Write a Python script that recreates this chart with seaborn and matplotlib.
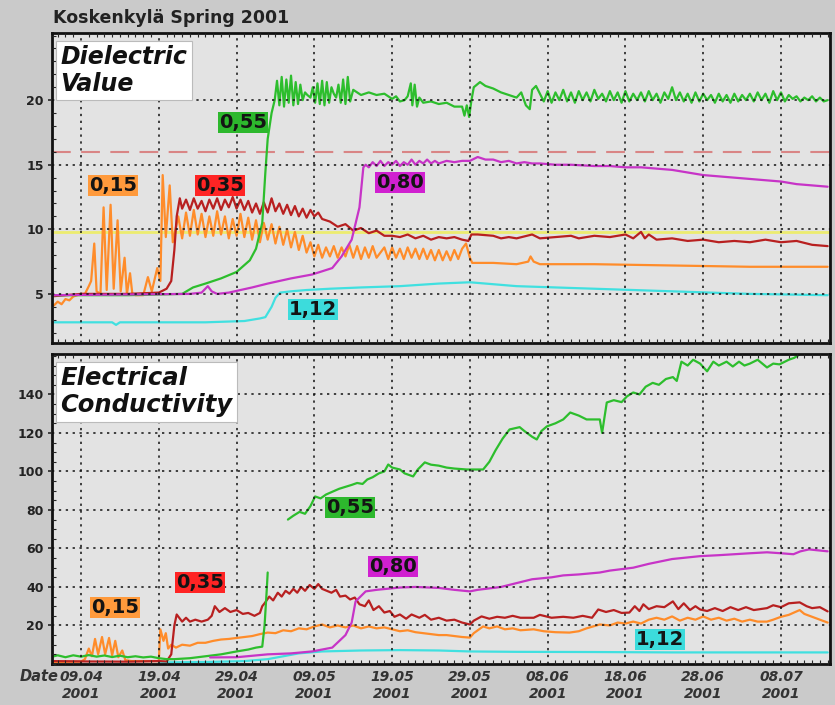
import numpy as np
import pandas as pd
import matplotlib
matplotlib.use("Agg")
import matplotlib.pyplot as plt
import matplotlib.dates as mdates
from matplotlib.ticker import MultipleLocator
import seaborn as sns

# ---------------------------------------------------------------
# data (days counted from 05.04.2001)
# ---------------------------------------------------------------
START = pd.Timestamp("2001-04-05")

tick_dates = ["2001-04-09", "2001-04-19", "2001-04-29", "2001-05-09", "2001-05-19",
              "2001-05-29", "2001-06-08", "2001-06-18", "2001-06-28", "2001-07-08"]
tick_labels = ["09.04\n2001", "19.04\n2001", "29.04\n2001", "09.05\n2001", "19.05\n2001",
               "29.05\n2001", "08.06\n2001", "18.06\n2001", "28.06\n2001", "08.07\n2001"]

# --- Dielectric value (top panel) ---
dv_015_day = [0, 0.5, 1, 1.5, 2, 2.5, 3, 3.5, 4, 4.5, 5.0, 5.3, 5.7, 6.0, 6.5, 6.9, 7.3, 7.8, 8.2,
              8.7, 9.1, 9.6, 9.9, 10.3, 10.6, 11, 12, 12.6, 13.1, 13.8, 14.2, 14.5, 14.9, 15.4, 15.8,
              16.5, 17, 17.5, 18, 18.5, 19, 19.5, 20, 20.5, 21, 21.5, 22, 22.5, 23, 23.5, 24, 24.5,
              25, 25.5, 26, 26.5, 27, 27.5, 28, 28.5, 29, 29.5, 30, 30.5, 31, 31.5, 32, 32.5, 33,
              33.5, 34, 34.5, 35, 35.5, 36, 36.5, 37, 37.5, 38, 38.5, 39, 39.5, 40, 40.5, 41, 41.5,
              42, 43, 43.5, 44, 44.5, 45, 45.5, 46, 46.5, 47, 47.5, 48, 48.5, 49, 49.5, 50, 50.5,
              51, 51.5, 52, 52.5, 53, 53.5, 54, 54.3, 55, 57, 60, 61.5, 61.8, 62.2, 63, 70, 80, 90, 100]
dv_015_val = [4.3, 4.1, 4.4, 4.2, 4.6, 4.5, 4.8, 4.9, 5.0, 5.0, 5.6, 6.0, 8.9, 5.2, 5.0, 11.7, 5.3, 11.9, 5.4,
              10.7, 5.2, 7.8, 5.0, 6.6, 5.0, 4.9, 4.9, 6.3, 5.2, 7.0, 6.0, 14.2, 9.4, 13.4, 9.0,
              11.0, 9.3, 11.3, 9.5, 11.5, 9.6, 11.2, 9.4, 11.0, 9.5, 11.4, 9.6, 11.0, 9.3, 10.8, 9.5, 11.2,
              9.4, 10.9, 9.2, 10.7, 9.0, 10.5, 9.2, 10.4, 8.9, 10.2, 8.8, 10.0, 8.6, 9.8, 8.4, 9.5, 8.2,
              9.0, 7.9, 8.8, 7.8, 8.6, 7.9, 8.7, 7.8, 8.6, 7.9, 8.8, 7.8, 8.7, 7.7, 8.6, 7.8, 8.7,
              7.8, 8.6, 7.7, 8.6, 7.8, 8.5, 7.7, 8.6, 7.8, 8.5, 7.7, 8.5, 7.7, 8.4, 7.6, 8.4, 7.6,
              8.3, 7.6, 8.4, 7.7, 8.5, 8.9, 7.8, 7.4, 7.4, 7.4, 7.3, 7.5, 7.9, 7.5, 7.3, 7.3, 7.2, 7.1, 7.1]

dv_035_day = [0, 4, 10, 14, 15, 15.6, 16.0, 16.3, 16.7, 17, 17.5, 18, 18.5, 19, 19.5, 20, 20.5, 21,
              21.5, 22, 22.5, 23, 23.5, 24, 24.5, 25, 25.5, 26, 26.5, 27, 27.5, 28, 28.5, 29, 29.5,
              30, 30.5, 31, 31.5, 32, 32.5, 33, 33.5, 34, 34.5, 35, 36, 37, 38, 39, 40, 41, 42, 43,
              44, 45, 46, 47, 48, 49, 50, 51, 52, 53, 53.8, 54.2, 55, 57, 58, 59, 60, 62, 63, 65,
              67, 68, 70, 72, 74, 75, 76, 76.5, 77, 78, 80, 82, 84, 86, 88, 90, 92, 94, 96, 98, 100]
dv_035_val = [4.8, 5.0, 5.0, 5.1, 5.4, 6.0, 8.4, 11.0, 12.4, 11.6, 12.3, 11.5, 12.4, 11.6, 12.2, 11.4, 12.3, 11.6,
              12.4, 11.5, 12.3, 11.7, 12.5, 11.6, 12.3, 11.5, 12.2, 11.3, 12.0, 11.2, 12.1, 11.3, 12.4, 11.4, 12.0,
              11.2, 11.9, 11.1, 11.8, 11.0, 11.6, 10.9, 11.5, 11.0, 11.3, 10.8, 10.6, 10.2, 10.4, 9.9, 10.1, 9.7, 9.9, 9.5,
              9.5, 9.4, 9.6, 9.3, 9.5, 9.2, 9.4, 9.3, 9.4, 9.2, 9.1, 9.6, 9.6, 9.5, 9.3, 9.4, 9.3, 9.6, 9.3, 9.4,
              9.5, 9.3, 9.5, 9.4, 9.6, 9.3, 9.8, 9.3, 9.6, 9.2, 9.3, 9.1, 9.2, 9.0, 9.1, 9.0, 9.2, 9.0, 9.1, 8.8, 8.7]

dv_055_day = [0, 10, 17, 18.4, 20, 22, 24, 25.7, 26.5, 27.3, 27.7, 28, 28.5, 28.9, 29.2, 29.5, 29.8,
              30.1, 30.4, 30.7, 31, 31.3, 31.6, 31.9, 32.2, 32.5, 32.8, 33.1, 33.5, 33.8, 34.1, 34.4,
              34.7, 35, 35.3, 35.6, 35.9, 36.2, 36.5, 36.8, 37.1, 37.4, 37.7, 38, 38.3, 38.6, 39, 40,
              41, 42, 43, 44, 44.5, 45, 45.6, 46, 46.4, 46.6, 46.9, 47.2, 47.5, 48, 49, 50, 51, 52,
              53, 53.3, 53.6, 53.9, 54.2, 54.5, 55.3, 56, 57, 58, 59, 60, 60.6, 61.2, 61.7, 62, 62.5,
              63, 63.5, 64, 64.5, 65, 65.5, 66, 66.5, 67, 67.5, 68, 68.5, 69, 69.5, 70, 70.5, 71,
              71.5, 72, 72.5, 73, 73.5, 74, 74.5, 75, 75.5, 76, 76.5, 77, 77.5, 78, 78.5, 79, 79.5,
              80, 80.5, 81, 81.5, 82, 82.5, 83, 83.5, 84, 84.5, 85, 85.5, 86, 86.5, 87, 87.5, 88,
              88.5, 89, 89.5, 90, 90.5, 91, 91.5, 92, 92.5, 93, 93.5, 94, 94.5, 95, 95.5, 96, 96.5,
              97, 97.5, 98, 98.5, 99, 99.5, 100]
dv_055_val = [4.9, 4.9, 5.0, 5.5, 5.8, 6.2, 6.7, 7.6, 8.5, 10.5, 14.4, 17.0, 19.0, 20.0, 21.5, 19.6, 21.8,
              19.5, 21.6, 19.8, 21.9, 19.6, 21.4, 19.7, 21.2, 20.0, 20.6, 20.4, 20.2, 21.0, 19.8, 21.3,
              19.7, 21.5, 19.6, 21.4, 19.8, 21.0, 20.5, 20.2, 21.2, 19.8, 21.6, 19.7, 21.8, 19.9, 20.8, 20.4,
              20.6, 20.4, 20.5, 20.1, 20.3, 19.9, 20.0, 20.3, 21.3, 19.6, 21.2, 19.5, 20.2, 19.8, 19.9, 19.7, 19.8, 19.5,
              19.5, 18.8, 19.6, 18.7, 20.0, 21.0, 21.4, 21.1, 20.9, 20.6, 20.4, 20.2, 20.6, 19.6, 19.3, 20.8, 21.1,
              20.5, 19.9, 20.7, 19.8, 20.6, 20.0, 20.8, 19.9, 20.6, 19.8, 20.7, 20.0, 20.6, 19.9, 20.8, 20.1, 20.5,
              19.9, 20.7, 20.0, 20.6, 19.8, 20.7, 19.9, 20.5, 20.0, 20.6, 19.9, 20.7, 20.0, 20.5, 19.8, 20.6, 20.1,
              21.0, 20.0, 20.6, 19.9, 20.5, 19.8, 20.6, 19.9, 20.5, 20.0, 20.4, 19.8, 20.5, 19.9, 20.4, 19.8, 20.5,
              19.9, 20.4, 20.0, 20.5, 19.9, 20.6, 20.0, 20.5, 19.8, 20.7, 20.0, 20.6, 19.9, 20.4, 20.1, 20.3, 19.9,
              20.2, 20.0, 20.3, 19.9, 20.2, 19.9, 20.0]

dv_080_day = [0, 18, 19.5, 20.3, 20.8, 21.5, 23, 26, 28, 31, 33.7, 36.3, 37.5, 38.8, 39.8, 40.3, 40.6,
              41, 41.5, 42, 42.5, 43, 43.5, 44, 44.5, 45, 45.5, 46, 46.5, 47, 47.5, 48, 48.5, 49, 49.5,
              50, 51, 52, 53, 54, 55, 55.5, 56, 57, 58, 59, 60, 61, 62, 63, 65, 67, 70, 72, 74, 76,
              78, 80, 82, 84, 86, 88, 90, 92, 94, 96, 98, 100]
dv_080_val = [4.9, 5.0, 5.1, 5.6, 5.2, 5.0, 5.1, 5.5, 5.8, 6.2, 6.5, 7.0, 7.9, 9.2, 11.7, 14.8, 15.0,
              14.8, 15.2, 14.9, 15.3, 14.9, 15.2, 15.0, 15.3, 14.9, 15.2, 15.0, 15.4, 15.0, 15.3, 15.1, 15.4, 15.1, 15.3,
              15.1, 15.3, 15.2, 15.3, 15.3, 15.6, 15.5, 15.4, 15.4, 15.2, 15.3, 15.1, 15.2, 15.1, 15.1, 15.0, 15.0, 14.9, 14.9, 14.8, 14.8,
              14.7, 14.6, 14.4, 14.2, 14.1, 14.0, 13.9, 13.8, 13.7, 13.5, 13.4, 13.3]

dv_112_day = [0, 8, 8.5, 9, 20, 25, 27, 27.7, 28.5, 29.0, 29.6, 31, 33, 36, 40, 45, 50, 54, 56, 60,
              65, 70, 75, 80, 85, 90, 95, 100]
dv_112_val = [2.8, 2.8, 2.6, 2.8, 2.8, 2.9, 3.1, 3.2, 4.0, 4.7, 5.1, 5.2, 5.3, 5.4, 5.5, 5.6, 5.8, 5.9, 5.8, 5.6,
              5.5, 5.4, 5.3, 5.2, 5.1, 5.0, 4.95, 4.9]

dv_upper_ref = 16.0
dv_lower_ref = 9.8

# --- Electrical conductivity (bottom panel) ---
ec_015_day = [0, 4, 4.5, 5, 5.4, 5.8, 6.2, 6.7, 7.1, 7.6, 8.0, 8.4, 8.8, 9.3, 9.7, 10.5, 12, 14, 14.2, 14.6,
              14.9, 15.2, 15.6, 16.2, 17, 18, 19, 20, 21, 22, 23, 24, 25, 26, 27, 28, 29, 30, 31, 32,
              33, 34, 35, 36, 37, 38, 39, 40, 41, 42, 43, 44, 45, 46, 47, 48, 49, 50, 51, 52, 53, 54,
              54.5, 55.7, 56.5, 57.5, 58.5, 59.5, 60.5, 62.2, 63.5, 65, 66.8, 68, 69, 70.7, 72, 73, 74,
              75, 76, 77, 78, 79, 80, 81, 82, 83, 84, 85, 86, 87, 88, 89, 90, 91, 92.2, 93, 94, 95,
              96.4, 97, 98, 99, 100]
ec_015_val = [1.0, 1.2, 2.5, 8, 4, 13, 5, 14, 5, 13.5, 4.5, 12, 3.5, 7, 2, 1.5, 1.5, 1.5, 18, 12,
              16, 8, 10, 8.5, 10, 9.5, 11, 11, 12, 12.7, 13, 13.5, 14, 14.5, 15.5, 16.3, 16, 17.5, 17, 18.5,
              18, 19.5, 20.5, 19, 20, 19, 20, 18.5, 19.5, 18.5, 19, 18, 17, 17.5, 16.5, 16, 15.5, 15, 15, 14.5, 14, 13.7,
              16, 19.5, 18.5, 19.5, 18, 18.5, 17.5, 18, 17, 16.5, 16.3, 17, 18.5, 20.5, 20, 21.5, 21,
              22, 21, 23, 24, 23, 24.7, 22.5, 24, 23, 24.7, 23, 24, 22.5, 23.5, 22, 23, 22, 22, 23, 24.5, 25.5,
              28, 26, 24.5, 23, 21.5]

ec_035_day = [0, 5, 10, 14, 15, 15.6, 16.0, 16.3, 17, 17.5, 18, 18.7, 19.5, 20.3, 20.8, 21.2, 21.8, 22.5,
              23.2, 24, 24.8, 25.5, 26.3, 27, 27.3, 27.6, 28.2, 28.7, 29.3, 29.8, 30.3, 30.8, 31.3, 31.8,
              32.3, 32.8, 33.4, 34, 34.5, 35.0, 35.6, 36.2, 36.8, 37.3, 38, 38.6, 39.2, 39.8, 40.5, 41,
              41.6, 42.3, 43, 43.7, 44.3, 45, 45.8, 46.5, 47.5, 48.2, 49, 50, 51, 52, 53, 54, 54.5,
              55.5, 56.5, 57.5, 58.5, 59.5, 60.5, 62.2, 63, 64.5, 66, 67.3, 68.5, 69.7, 70.5, 71.5,
              72.5, 73.5, 74.5, 75.2, 75.8, 76.3, 77, 78, 79, 80.1, 80.8, 81.5, 82.3, 83, 83.6, 84.5,
              85.5, 86.5, 87.5, 88.5, 89.5, 90.5, 92.2, 93, 94, 95, 96.4, 97.3, 98, 99, 100]
ec_035_val = [1.5, 1.3, 1.2, 1.5, 1.3, 5, 20, 25.7, 22, 24, 22, 23, 22, 23, 25, 30, 27, 29,
              27, 28, 26, 26.5, 25, 26.5, 30, 31.5, 35, 33, 37, 35, 38, 36.5, 39, 37,
              40, 38, 41, 39, 41.5, 39, 38, 37, 38.5, 35, 35.5, 33.5, 34.5, 31, 30, 33,
              28, 30, 26.7, 27.5, 24.5, 25.7, 23.5, 25.7, 24, 25.5, 23, 24, 22.5, 23, 21.5, 20.5, 22.5,
              24.7, 23.5, 24.5, 24, 25, 24, 24, 25.5, 24, 24.5, 24, 25, 24, 28.3, 27,
              28, 26.5, 26.7, 30, 27.5, 31, 28.5, 30, 29.5, 32.5, 28.5, 31.5, 28, 30, 28.3, 27.5,
              29, 27.5, 29.5, 28, 29.5, 28, 29, 30.5, 29.5, 31.5, 32, 30, 29, 29.5, 27.3]

# 0,55 has a gap (no readings) between the two parts
ec_055a_day = [0, 1, 2, 3, 4, 5, 6, 7, 8, 9, 10, 11, 12, 13, 14, 15, 16, 18, 20, 22, 24, 25.5, 26.5,
               27.3, 27.6, 27.9, 28.0]
ec_055a_val = [3.5, 4.5, 3.5, 4.5, 3.8, 4.6, 3.8, 4.4, 3.6, 4.3, 3.5, 4.0, 3.4, 3.8, 3.0, 2.5, 2.5, 3.0,
               4.0, 5.0, 6.5, 7.5, 8.5, 9.0, 20, 40, 47.5]
ec_055b_day = [30.6, 31.3, 32.1, 32.8, 33.5, 34.1, 34.8, 35.5, 36.4, 37.2, 38, 38.8, 39.5, 40.2, 40.8,
               41.5, 42.3, 43, 43.5, 44, 45, 45.6, 46.7, 47.3, 48.2, 49, 50, 51, 52, 53.6, 55.7, 56.5,
               57.3, 58.2, 59.1, 60.4, 61, 62, 62.6, 63.2, 63.9, 65, 66, 66.9, 68, 69, 70, 70.7, 71.0,
               71.3, 71.6, 72.5, 73.5, 74.2, 75, 75.8, 76.6, 77.5, 78.3, 79.2, 80.1, 80.6, 81.2, 82,
               82.7, 83.6, 84.5, 85.3, 86, 87, 87.8, 88.6, 89.3, 90, 91, 92.2, 93, 93.8, 94.5, 95,
               95.7, 96.4]
ec_055b_val = [75, 77, 79, 78, 82, 87, 86, 88, 89.6, 91, 92, 93, 94, 93.5, 95.8,
               97, 99, 100, 103.6, 102, 101, 99, 97.4, 101, 104.7, 103.5, 103, 102, 101.5, 101, 101, 105,
               111, 117, 121.8, 123, 121, 118, 116.6, 121, 123.4, 125, 127, 130.6, 129, 127, 127, 127, 120,
               128, 135.8, 137, 136, 139, 141, 140, 144, 146, 145, 148, 149, 147, 157, 155,
               158, 156, 152, 157, 155, 157, 154.5, 157, 155, 156, 158, 154, 156, 155.6, 157, 158,
               159, 160.8]

ec_080_day = [20.6, 24, 28, 31, 33.7, 36.3, 38, 38.8, 39.3, 40.6, 42, 45, 47, 50, 52, 54, 55, 58, 60,
              62, 64.5, 66, 68, 70.7, 72, 74, 75, 77, 80, 83.6, 86, 88, 90, 92.2, 94, 95.6, 96.5,
              97.6, 100]
ec_080_val = [3.4, 3.5, 5, 5.5, 6.5, 8.5, 15, 21.5, 32.5, 37.7, 38.5, 39.7, 40, 39.5, 38.5, 37.7, 38.5, 40, 42,
              44, 45, 46, 46.5, 47.5, 48.5, 49.5, 50, 52, 54.5, 56, 56.5, 57, 57.5, 58, 57.5, 57, 58.5,
              59.5, 58.5]

ec_112_day = [14, 20, 25, 28, 30, 32, 35, 40, 45, 50, 54, 60, 70, 80, 90, 100]
ec_112_val = [0.8, 1.0, 1.5, 2.5, 4.0, 5.5, 6.5, 7.0, 7.2, 7.0, 6.5, 6.3, 6.2, 6.0, 6.0, 6.0]

# label positions (day, value) for the depth tags
dv_tags = {"0,15": (8.1, 13.4), "0,35": (21.9, 13.4), "0,55": (24.8, 18.3),
           "0,80": (45.0, 13.6), "1,12": (33.8, 3.8)}
ec_tags = {"0,15": (8.4, 29.4), "0,35": (19.3, 42.3), "0,55": (38.6, 81.3),
           "0,80": (44.1, 50.6), "1,12": (78.4, 12.7)}

# colours
C_015 = "#FF8C2A"
C_035 = "#B82020"
C_055 = "#2DBE2D"
C_080 = "#C734C7"
C_112 = "#40E0E0"
tag_bg = {"0,15": "#FF9A3C", "0,35": "#FF2424", "0,55": "#2DB82D",
          "0,80": "#D020D0", "1,12": "#3CDCDC"}

# ---------------------------------------------------------------
# figure
# ---------------------------------------------------------------
sns.set_style("white")
plt.rcParams["font.family"] = ["DejaVu Sans"]

fig = plt.figure(figsize=(8.35, 7.05), dpi=100)
fig.patch.set_facecolor("#CACACA")
ax1 = fig.add_axes([0.0623, 0.5135, 0.9317, 0.4397])
ax2 = fig.add_axes([0.0623, 0.0582, 0.9317, 0.4397])


def to_dates(days):
    return START + pd.to_timedelta(np.asarray(days, dtype=float), unit="D")


def draw(ax, days, vals, color, lw=1.6):
    sns.lineplot(x=to_dates(days), y=np.asarray(vals, dtype=float), ax=ax,
                 color=color, lw=lw, estimator=None, sort=False)


# reference lines in the dielectric panel
ax1.axhline(dv_lower_ref, color="#ECEC70", lw=2.0, zorder=1.5)
ax1.axhline(dv_upper_ref, color="#D98585", lw=1.5, ls=(0, (9, 5)), zorder=1.5)

draw(ax1, dv_112_day, dv_112_val, C_112)
draw(ax1, dv_015_day, dv_015_val, C_015)
draw(ax1, dv_035_day, dv_035_val, C_035)
draw(ax1, dv_055_day, dv_055_val, C_055)
draw(ax1, dv_080_day, dv_080_val, C_080)

draw(ax2, ec_112_day, ec_112_val, C_112)
draw(ax2, ec_015_day, ec_015_val, C_015)
draw(ax2, ec_035_day, ec_035_val, C_035)
draw(ax2, ec_055a_day, ec_055a_val, C_055)
draw(ax2, ec_055b_day, ec_055b_val, C_055)
draw(ax2, ec_080_day, ec_080_val, C_080)

x_lo = mdates.date2num(START + pd.Timedelta(days=0.27))
x_hi = mdates.date2num(START + pd.Timedelta(days=100.3))
tick_pos = mdates.date2num(pd.to_datetime(tick_dates))

for ax, ylim, yticks, ymin in [(ax1, (1.2, 25.2), [5, 10, 15, 20], 1),
                               (ax2, (0, 161), [20, 40, 60, 80, 100, 120, 140], 5)]:
    ax.set_facecolor("#E3E3E3")
    ax.set_xlim(x_lo, x_hi)
    ax.set_ylim(*ylim)
    ax.set_yticks(yticks)
    ax.set_yticklabels([str(t) for t in yticks], fontsize=9, fontweight="bold", color="#222222")
    ax.set_xticks(tick_pos)
    ax.xaxis.set_minor_locator(mdates.DayLocator())
    ax.yaxis.set_minor_locator(MultipleLocator(ymin))
    ax.grid(True, which="major", color="#111111", lw=1.1, ls=(0, (1.5, 3)))
    ax.set_axisbelow(False)
    for s in ax.spines.values():
        s.set_visible(True)
        s.set_color("#111111")
        s.set_linewidth(2)
    ax.tick_params(axis="y", which="major", direction="out", length=3, width=1.2, pad=3, left=True)
    ax.tick_params(axis="y", which="minor", direction="in", length=3, width=0.8, left=True)
    ax.tick_params(axis="x", which="minor", direction="in", length=3, width=0.8,
                   top=True, bottom=True)
    ax.tick_params(axis="x", which="major", direction="in", length=0, top=False, bottom=True)
    ax.set_xlabel("")
    ax.set_ylabel("")

ax1.set_xticklabels([])
ax2.set_xticklabels(tick_labels, fontsize=10, fontweight="bold", fontstyle="italic",
                    color="#333333", linespacing=1.3)
ax2.tick_params(axis="x", which="major", pad=4)

# panel names
ax1.text(0.011, 0.96, "Dielectric\nValue", transform=ax1.transAxes, ha="left", va="top",
         fontsize=17, fontweight="bold", fontstyle="italic", color="#111111", linespacing=1.15,
         bbox=dict(boxstyle="square,pad=0.18", fc="white", ec="#BBBBBB", lw=0.8), zorder=6)
ax2.text(0.011, 0.96, "Electrical\nConductivity", transform=ax2.transAxes, ha="left", va="top",
         fontsize=17.5, fontweight="bold", fontstyle="italic", color="#111111", linespacing=1.15,
         bbox=dict(boxstyle="square,pad=0.18", fc="white", ec="#BBBBBB", lw=0.8), zorder=6)

# depth tags
for ax, tags in [(ax1, dv_tags), (ax2, ec_tags)]:
    for name, (d, v) in tags.items():
        ax.text(mdates.date2num(START + pd.Timedelta(days=d)), v, name, ha="center", va="center",
                fontsize=14, fontweight="bold", color="#141414",
                bbox=dict(boxstyle="square,pad=0.05", fc=tag_bg[name], ec="none"), zorder=7)

fig.text(0.063, 0.974, "Koskenkylä Spring 2001", ha="left", va="center",
         fontsize=12.5, fontweight="bold", color="#222222")
fig.text(0.024, 0.040, "Date", ha="left", va="center", fontsize=10.5,
         fontweight="bold", fontstyle="italic", color="#333333")

fig.savefig("out.png", dpi=100, facecolor=fig.get_facecolor())
